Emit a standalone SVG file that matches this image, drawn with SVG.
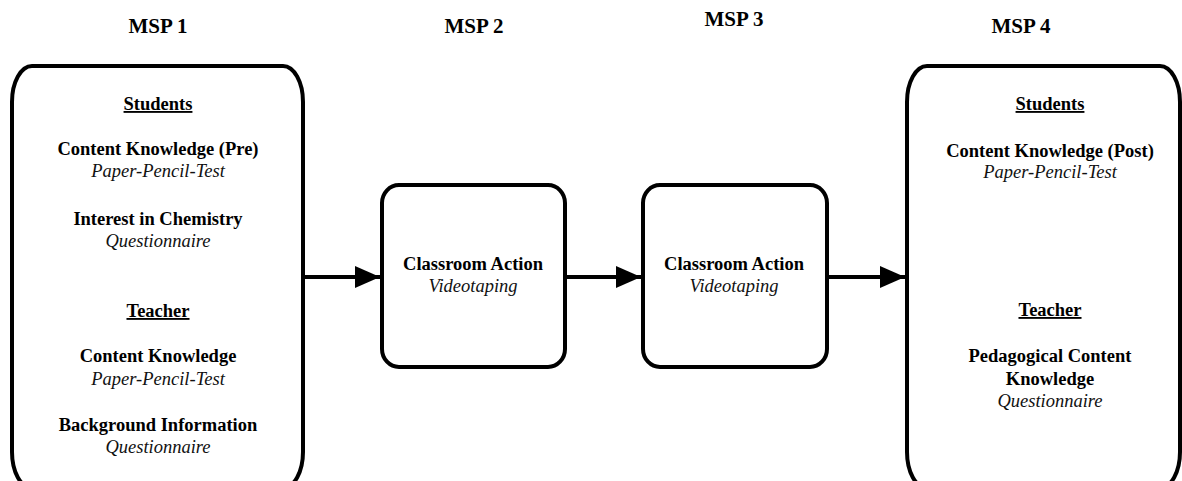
<svg xmlns="http://www.w3.org/2000/svg" width="1182" height="481" viewBox="0 0 1182 481">
  <style>
    .box { fill: #fff; stroke: #000; stroke-width: 4; }
    .hdr { font-family: "Liberation Serif", "Times New Roman", serif; font-weight: bold; font-size: 21px; text-anchor: middle; fill: #000; }
    .b { font-family: "Liberation Serif", "Times New Roman", serif; font-weight: bold; font-size: 18.5px; text-anchor: middle; fill: #000; }
    .i { font-family: "Liberation Serif", "Times New Roman", serif; font-style: italic; font-size: 18.5px; text-anchor: middle; fill: #111; }
    .u { text-decoration: underline; }
    .conn { stroke: #000; stroke-width: 4; fill: none; }
  </style>
  <defs>
    <marker id="arrow" markerUnits="userSpaceOnUse" markerWidth="26" markerHeight="22" refX="25" refY="11" orient="auto">
      <path d="M0,0 L25,11 L0,22 Z" fill="#000"/>
    </marker>
  </defs>
  <rect width="1182" height="481" fill="#fff"/>

  <!-- phase headings -->
  <text class="hdr" x="158" y="33">MSP 1</text>
  <text class="hdr" x="474" y="33">MSP 2</text>
  <text class="hdr" x="734" y="26">MSP 3</text>
  <text class="hdr" x="1021" y="33">MSP 4</text>

  <!-- connectors -->
  <g id="connectors">
    <line class="conn" x1="303" y1="277" x2="380" y2="277" marker-end="url(#arrow)"/>
    <line class="conn" x1="565" y1="277" x2="641" y2="277" marker-end="url(#arrow)"/>
    <line class="conn" x1="827" y1="277" x2="905" y2="277" marker-end="url(#arrow)"/>
  </g>

  <g id="msp1">
    <rect class="box" x="12" y="66" width="291" height="422" rx="20" ry="36"/>
    <text class="b u" x="158" y="110">Students</text>
    <text class="b" x="158" y="155">Content Knowledge (Pre)</text>
    <text class="i" x="158" y="177">Paper-Pencil-Test</text>
    <text class="b" x="158" y="225">Interest in Chemistry</text>
    <text class="i" x="158" y="247">Questionnaire</text>
    <text class="b u" x="158" y="317">Teacher</text>
    <text class="b" x="158" y="362">Content Knowledge</text>
    <text class="i" x="158" y="385">Paper-Pencil-Test</text>
    <text class="b" x="158" y="431">Background Information</text>
    <text class="i" x="158" y="453">Questionnaire</text>
  </g>

  <g id="msp2">
    <rect class="box" x="382" y="185" width="183" height="182" rx="17" ry="18"/>
    <text class="b" x="473" y="270">Classroom Action</text>
    <text class="i" x="473" y="292">Videotaping</text>
  </g>

  <g id="msp3">
    <rect class="box" x="643" y="185" width="184" height="182" rx="17" ry="18"/>
    <text class="b" x="734" y="270">Classroom Action</text>
    <text class="i" x="734" y="292">Videotaping</text>
  </g>

  <g id="msp4">
    <rect class="box" x="907" y="66" width="273" height="422" rx="20" ry="36"/>
    <text class="b u" x="1050" y="110">Students</text>
    <text class="b" x="1050" y="157">Content Knowledge (Post)</text>
    <text class="i" x="1050" y="178">Paper-Pencil-Test</text>
    <text class="b u" x="1050" y="316">Teacher</text>
    <text class="b" x="1050" y="362">Pedagogical Content</text>
    <text class="b" x="1050" y="385">Knowledge</text>
    <text class="i" x="1050" y="407">Questionnaire</text>
  </g>
</svg>
